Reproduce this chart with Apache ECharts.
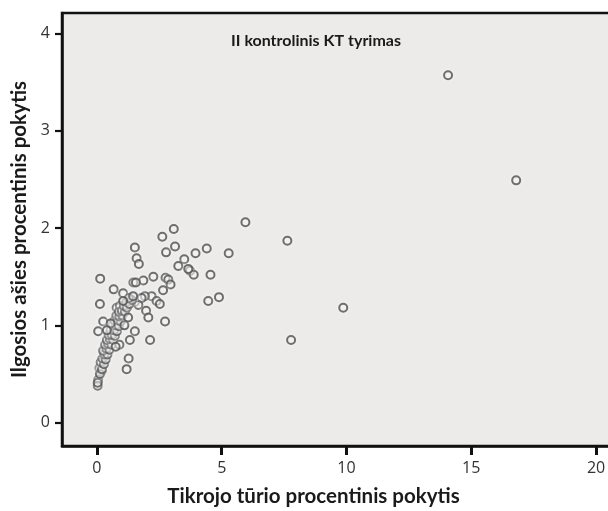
<!DOCTYPE html>
<html><head><meta charset="utf-8">
<script src="https://cdn.jsdelivr.net/npm/echarts@6/dist/echarts.min.js"></script>
<style>html,body{margin:0;padding:0;background:#fff}#c{width:608px;height:511px}</style>
</head><body><div id="c"></div>
<script>
const chartTitle = 'II kontrolinis KT tyrimas';
const xName = 'Tikrojo tūrio procentinis pokytis';
const yName = 'Ilgosios ašies procentinis pokytis';
const xTicks = [0, 5, 10, 15, 20];
const yTicks = [0, 1, 2, 3, 4];

// Sparse points
const xSparse = [14.07,16.8,9.87,7.78,7.63,5.95,5.28,4.40,3.95,3.50,4.55,3.73,3.88,4.46,4.89,
  3.08,2.62,1.52,2.77,3.13,1.59,1.68,3.26,3.66,
  0.13,2.26,1.86,1.46,1.56,2.75,2.86,2.95,2.65,0.67,1.05,2.19,2.39,1.92,1.79,2.52,1.32,1.52,1.66,0.12,1.97,2.06,2.73,0.79,0.92,1.19,0.25,0.05,1.52,1.32,2.13,1.27,1.19,0.10,0.19,0.05,0.03,0.03];
const ySparse = [3.57,2.49,1.18,0.85,1.87,2.06,1.74,1.79,1.74,1.68,1.52,1.56,1.52,1.25,1.29,
  1.99,1.91,1.80,1.75,1.81,1.69,1.63,1.61,1.58,
  1.48,1.50,1.46,1.44,1.44,1.49,1.47,1.42,1.36,1.37,1.33,1.30,1.25,1.30,1.28,1.22,1.26,1.24,1.21,1.22,1.15,1.08,1.04,1.18,1.20,1.20,1.04,0.94,0.94,0.85,0.85,0.66,0.55,0.56,0.53,0.44,0.38,0.41];
// Dense band
const xBand = [0.12,0.20,0.15,0.28,0.22,0.35,0.30,0.42,0.25,0.38,0.50,0.33,0.45,0.58,0.40,0.52,0.65,0.47,0.60,0.72,0.55,0.68,0.80,0.62,0.75,0.88,0.70,0.83,0.95,0.78,0.90,1.02,0.88,1.00,1.12,1.08,1.20,1.18,1.30,1.40,1.28,1.45,1.05,0.55,0.40,1.10,1.25,0.90,0.75];
const yBand = [0.50,0.55,0.62,0.60,0.66,0.65,0.70,0.70,0.74,0.76,0.75,0.80,0.81,0.80,0.85,0.86,0.85,0.90,0.90,0.89,0.95,0.95,0.94,1.00,1.00,0.99,1.05,1.05,1.04,1.10,1.09,1.10,1.14,1.15,1.14,1.20,1.18,1.24,1.22,1.26,1.28,1.30,1.25,1.02,0.95,1.00,1.08,0.80,0.78];

const points = [];
xSparse.forEach((v,i)=>points.push([v, ySparse[i]]));
xBand.forEach((v,i)=>points.push([v, yBand[i]]));

const chart = echarts.init(document.getElementById('c'), null, {renderer:'canvas'});
const FONT = 'Lato';
chart.setOption({
  animation:false,
  backgroundColor:'#ffffff',
  title:{text:chartTitle, left:226, top:28, textStyle:{fontFamily:FONT, fontWeight:'bold', fontSize:16, color:'#1a1a1a'}},
  grid:[
    {left:62, top:13, width:559, height:433, show:true, backgroundColor:'#ecebe9', borderColor:'#111', borderWidth:2.5, containLabel:false, outerBoundsMode:'none'}
  ],
  xAxis:[{type:'value', min:-1.4, max:21, position:'bottom',
      axisLine:{show:true, onZero:false, lineStyle:{color:'#111', width:2.5}},
      axisTick:{show:true, length:9, inside:false, customValues:xTicks, lineStyle:{color:'#111', width:3}},
      axisLabel:{show:true, customValues:xTicks, fontFamily:'Open Sans', fontSize:16, color:'#333', margin:14},
      splitLine:{show:false},
      name:xName, nameLocation:'middle', nameGap:40,
      nameTextStyle:{fontFamily:FONT, fontWeight:'bold', fontSize:20.5, color:'#1a1a1a', padding:[0,56,0,0]}}],
  yAxis:[{type:'value', min:-0.24, max:4.21, position:'left',
      axisLine:{show:true, onZero:false, lineStyle:{color:'#111', width:2.5}},
      axisTick:{show:true, length:7, inside:false, customValues:yTicks, lineStyle:{color:'#111', width:2.2}},
      axisLabel:{show:true, customValues:yTicks, fontFamily:'Open Sans', fontSize:16, color:'#333', margin:12},
      splitLine:{show:false},
      name:yName, nameLocation:'middle', nameGap:32,
      nameTextStyle:{fontFamily:FONT, fontWeight:'bold', fontSize:20.5, color:'#1a1a1a', padding:[0,0,0,0]}}],
  series:[{
    type:'scatter', data:points, symbol:'circle', symbolSize:8,
    itemStyle:{color:'rgba(236,235,233,0.3)', borderColor:'#4d4d4d', borderWidth:2, shadowColor:'rgba(255,255,255,0.9)', shadowBlur:4}
  }]
});
</script></body></html>
